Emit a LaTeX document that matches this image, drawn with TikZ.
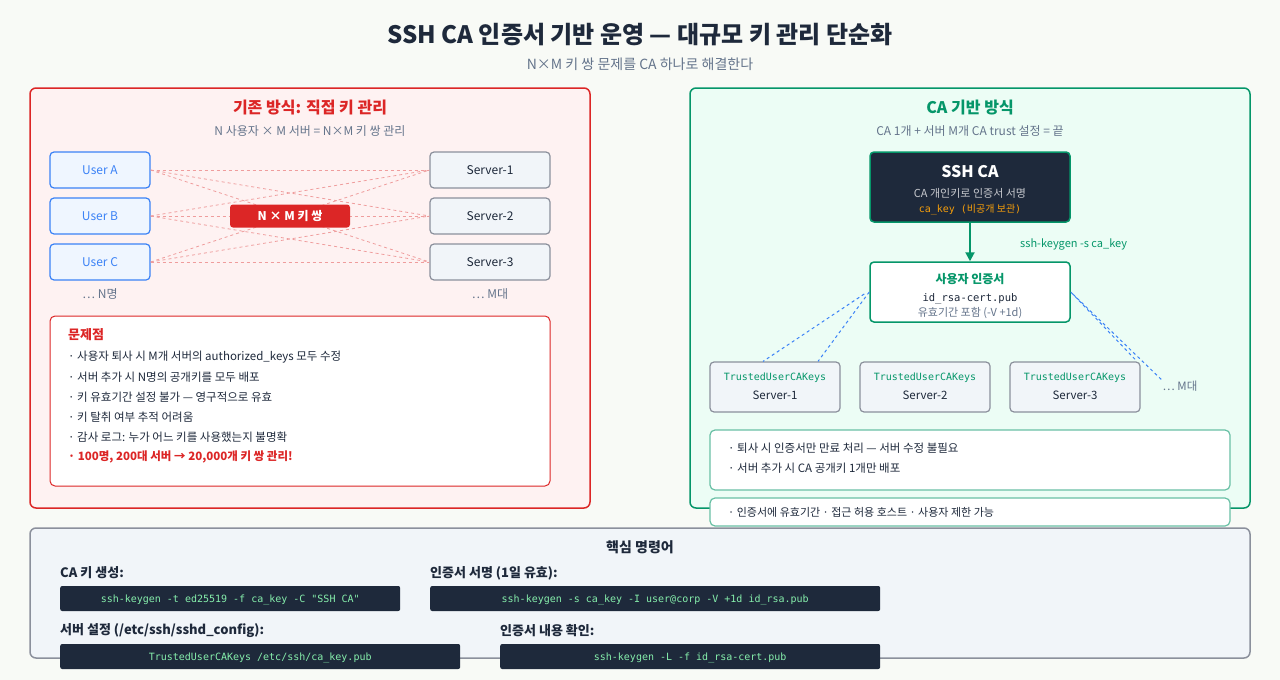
\documentclass[tikz,border=0pt]{standalone}
\usepackage{fontspec}
\setmainfont{Noto Sans CJK KR}
\newfontfamily\mono{DejaVu Sans Mono}
\usetikzlibrary{arrows.meta}
\definecolor{bg}{HTML}{F8FAF6}
\definecolor{dark}{HTML}{1E293B}
\definecolor{redc}{HTML}{DC2626}
\definecolor{redfill}{HTML}{FEF2F2}
\definecolor{greenc}{HTML}{059669}
\definecolor{greenfill}{HTML}{ECFDF5}
\definecolor{greyt}{HTML}{64748B}
\definecolor{bluec}{HTML}{3B82F6}
\definecolor{bluefill}{HTML}{EFF6FF}
\definecolor{slatefill}{HTML}{F1F5F9}
\definecolor{slateb}{HTML}{8B909C}
\definecolor{codeg}{HTML}{86EFAC}
\definecolor{orangec}{HTML}{F59E0B}
\tikzset{
 every node/.style={inner sep=0pt},
 panel/.style={draw, line width=1.5pt, rounded corners=6pt},
 ubox/.style={draw=bluec, fill=bluefill, line width=1.2pt, rounded corners=4pt, minimum width=100pt, minimum height=36pt, text=bluec, font=\fontsize{12}{14}\selectfont},
 sbox/.style={draw=slateb, fill=slatefill, line width=1.2pt, rounded corners=4pt, minimum width=120pt, minimum height=36pt, text=dark, font=\fontsize{12}{14}\selectfont},
 rbox/.style={draw=slateb, fill=slatefill, line width=1.2pt, rounded corners=4pt, minimum width=130pt, minimum height=50pt},
 pair/.style={draw=redc!45, dashed, line width=0.8pt},
 cert/.style={draw=bluec, dashed, line width=1pt},
 code/.style={fill=dark, rounded corners=2pt, minimum height=25pt, text=codeg, font=\mono\fontsize{10}{12}\selectfont, text depth=0pt, anchor=west, inner xsep=10pt},
 lbl/.style={font=\bfseries\fontsize{13}{15}\selectfont, text=dark, anchor=west},
 li/.style={anchor=west, font=\fontsize{11.5}{14}\selectfont, text=dark},
}
\begin{document}
\begin{tikzpicture}[x=1pt,y=-1pt]
\path[use as bounding box, fill=bg] (0,0) rectangle (1280,680);
\node[font=\bfseries\fontsize{24}{28}\selectfont, text=dark] (title) at (640,35) {SSH CA 인증서 기반 운영 — 대규모 키 관리 단순화};
\node[font=\fontsize{14}{16}\selectfont, text=greyt] (sub) at (640,64) {N×M 키 쌍 문제를 CA 하나로 해결한다};
% left panel
\draw[panel, draw=redc, fill=redfill] (30,88) rectangle (590,508);
\node[font=\bfseries\fontsize{16}{18}\selectfont, text=redc] (lt) at (310,108) {기존 방식: 직접 키 관리};
\node[font=\fontsize{12}{14}\selectfont, text=greyt] (ls) at (310,131) {N 사용자 × M 서버 = N×M 키 쌍 관리};
\node[ubox] (ua) at (100,170) {User A};
\node[ubox] (ub) at (100,216) {User B};
\node[ubox] (uc) at (100,262) {User C};
\node[sbox] (s1) at (490,170) {Server-1};
\node[sbox] (s2) at (490,216) {Server-2};
\node[sbox] (s3) at (490,262) {Server-3};
\foreach \u in {ua,ub,uc}{\foreach \s in {s1,s2,s3}{\draw[pair] (\u.east) -- (\s.west);}}
\node[fill=redc, rounded corners=3pt, minimum width=120pt, minimum height=23pt, text=white, font=\bfseries\fontsize{12}{14}\selectfont] (nm) at (290,216) {N × M 키 쌍};
\node[font=\fontsize{12}{14}\selectfont, text=greyt] (nn) at (100,294) {… N명};
\node[font=\fontsize{12}{14}\selectfont, text=greyt] (mm) at (490,294) {… M대};
\draw[draw=redc, fill=white, line width=1pt, rounded corners=5pt] (50,316) rectangle (550,486);
\node[anchor=west, font=\bfseries\fontsize{13}{15}\selectfont, text=redc] (pt) at (68,335) {문제점};
\node[li] (p1) at (68,357) {· 사용자 퇴사 시 M개 서버의 authorized\_keys 모두 수정};
\node[li] (p2) at (68,377) {· 서버 추가 시 N명의 공개키를 모두 배포};
\node[li] (p3) at (68,397) {· 키 유효기간 설정 불가 — 영구적으로 유효};
\node[li] (p4) at (68,417) {· 키 탈취 여부 추적 어려움};
\node[li] (p5) at (68,437) {· 감사 로그: 누가 어느 키를 사용했는지 불명확};
\node[li, text=redc, font=\bfseries\fontsize{11.5}{14}\selectfont] (p6) at (68,457) {· 100명, 200대 서버 → 20,000개 키 쌍 관리!};
% right panel
\draw[panel, draw=greenc, fill=greenfill] (690,88) rectangle (1250,508);
\node[font=\bfseries\fontsize{16}{18}\selectfont, text=greenc] (rt) at (970,108) {CA 기반 방식};
\node[font=\fontsize{12}{14}\selectfont, text=greyt] (rs) at (970,131) {CA 1개 + 서버 M개 CA trust 설정 = 끝};
\node[draw=greenc, fill=dark, line width=1.5pt, rounded corners=4pt, minimum width=200pt, minimum height=70pt] (ca) at (970,187) {};
\node[font=\bfseries\fontsize{16}{18}\selectfont, text=white] (cat) at (970,172) {SSH CA};
\node[font=\fontsize{11}{13}\selectfont, text=white!75!dark] (cad) at (970,193) {CA 개인키로 인증서 서명};
\node[font=\mono\fontsize{10}{12}\selectfont, text=orangec] (cak) at (970,210) {ca\_key (\fontspec{Noto Sans CJK KR}비공개 보관\mono)};
\node[draw=greenc, fill=white, line width=1.5pt, rounded corners=4pt, minimum width=200pt, minimum height=60pt] (ct) at (970,292) {};
\node[font=\bfseries\fontsize{12}{14}\selectfont, text=greenc] (ctt) at (970,279) {사용자 인증서};
\node[font=\mono\fontsize{10.5}{12}\selectfont, text=dark] (ctf) at (970,299) {id\_rsa-cert.pub};
\node[font=\fontsize{11}{13}\selectfont, text=greyt] (ctv) at (970,313) {유효기간 포함 (-V +1d)};
\draw[-{Triangle[length=9pt,width=9pt]}, draw=greenc, line width=2pt] (ca.south) -- (ct.north);
\node[anchor=west, font=\fontsize{11}{13}\selectfont, text=greenc] (arl) at (1020,244) {ssh-keygen -s ca\_key};
\node[rbox] (r1) at (775,387) {};
\node[rbox] (r2) at (925,387) {};
\node[rbox] (r3) at (1075,387) {};
\foreach \r/\t in {r1/Server-1,r2/Server-2,r3/Server-3}{
 \node[font=\fontsize{11.5}{13}\selectfont, text=dark] at ([yshift=-8pt]\r.center) {\t};
 \node[font=\mono\fontsize{10}{12}\selectfont, text=greenc] at ([yshift=9pt]\r.center) {TrustedUserCAKeys};}
\node[font=\fontsize{11.5}{13}\selectfont, text=greyt] (rm) at (1180,386) {… M대};
\draw[cert] (ct.west) ++(-5,2) -- ([xshift=-12pt]r1.north);
\draw[cert] (ct.west) -- ([xshift=43pt]r1.north);
\draw[cert] (ct.east) -- ([xshift=62pt]r3.north);
\draw[cert] (ct.east) ++(2,2) -- (rm.north west);
\draw[draw=greenc!60, fill=white, line width=1.2pt, rounded corners=5pt] (710,430) rectangle (1230,490);
\node[li] (g1) at (728,448) {· 퇴사 시 인증서만 만료 처리 — 서버 수정 불필요};
\node[li] (g2) at (728,468) {· 서버 추가 시 CA 공개키 1개만 배포};
\draw[draw=greenc!60, fill=white, line width=1.2pt, rounded corners=5pt] (710,498) rectangle (1230,526);
\node[li, font=\fontsize{11}{13}\selectfont] (g3) at (728,512) {· 인증서에 유효기간 · 접근 허용 호스트 · 사용자 제한 가능};
% bottom
\draw[draw=slateb, fill=slatefill, line width=1.5pt, rounded corners=6pt] (30,528) rectangle (1250,658);
\node[font=\bfseries\fontsize{14}{16}\selectfont, text=dark] (bt) at (640,547) {핵심 명령어};
\node[lbl] (l1) at (60,573) {CA 키 생성:};
\node[code, minimum width=340pt] (c1) at (60,598.5) {ssh-keygen -t ed25519 -f ca\_key -C "SSH CA"};
\node[lbl] (l2) at (430,573) {인증서 서명 (1일 유효):};
\node[code, minimum width=450pt] (c2) at (430,598.5) {ssh-keygen -s ca\_key -I user@corp -V +1d id\_rsa.pub};
\node[lbl] (l3) at (60,631) {서버 설정 (/etc/ssh/sshd\_config):};
\node[code, minimum width=400pt] (c3) at (60,656.5) {TrustedUserCAKeys /etc/ssh/ca\_key.pub};
\node[lbl] (l4) at (500,631) {인증서 내용 확인:};
\node[code, minimum width=380pt] (c4) at (500,656.5) {ssh-keygen -L -f id\_rsa-cert.pub};
\end{tikzpicture}
\end{document}
